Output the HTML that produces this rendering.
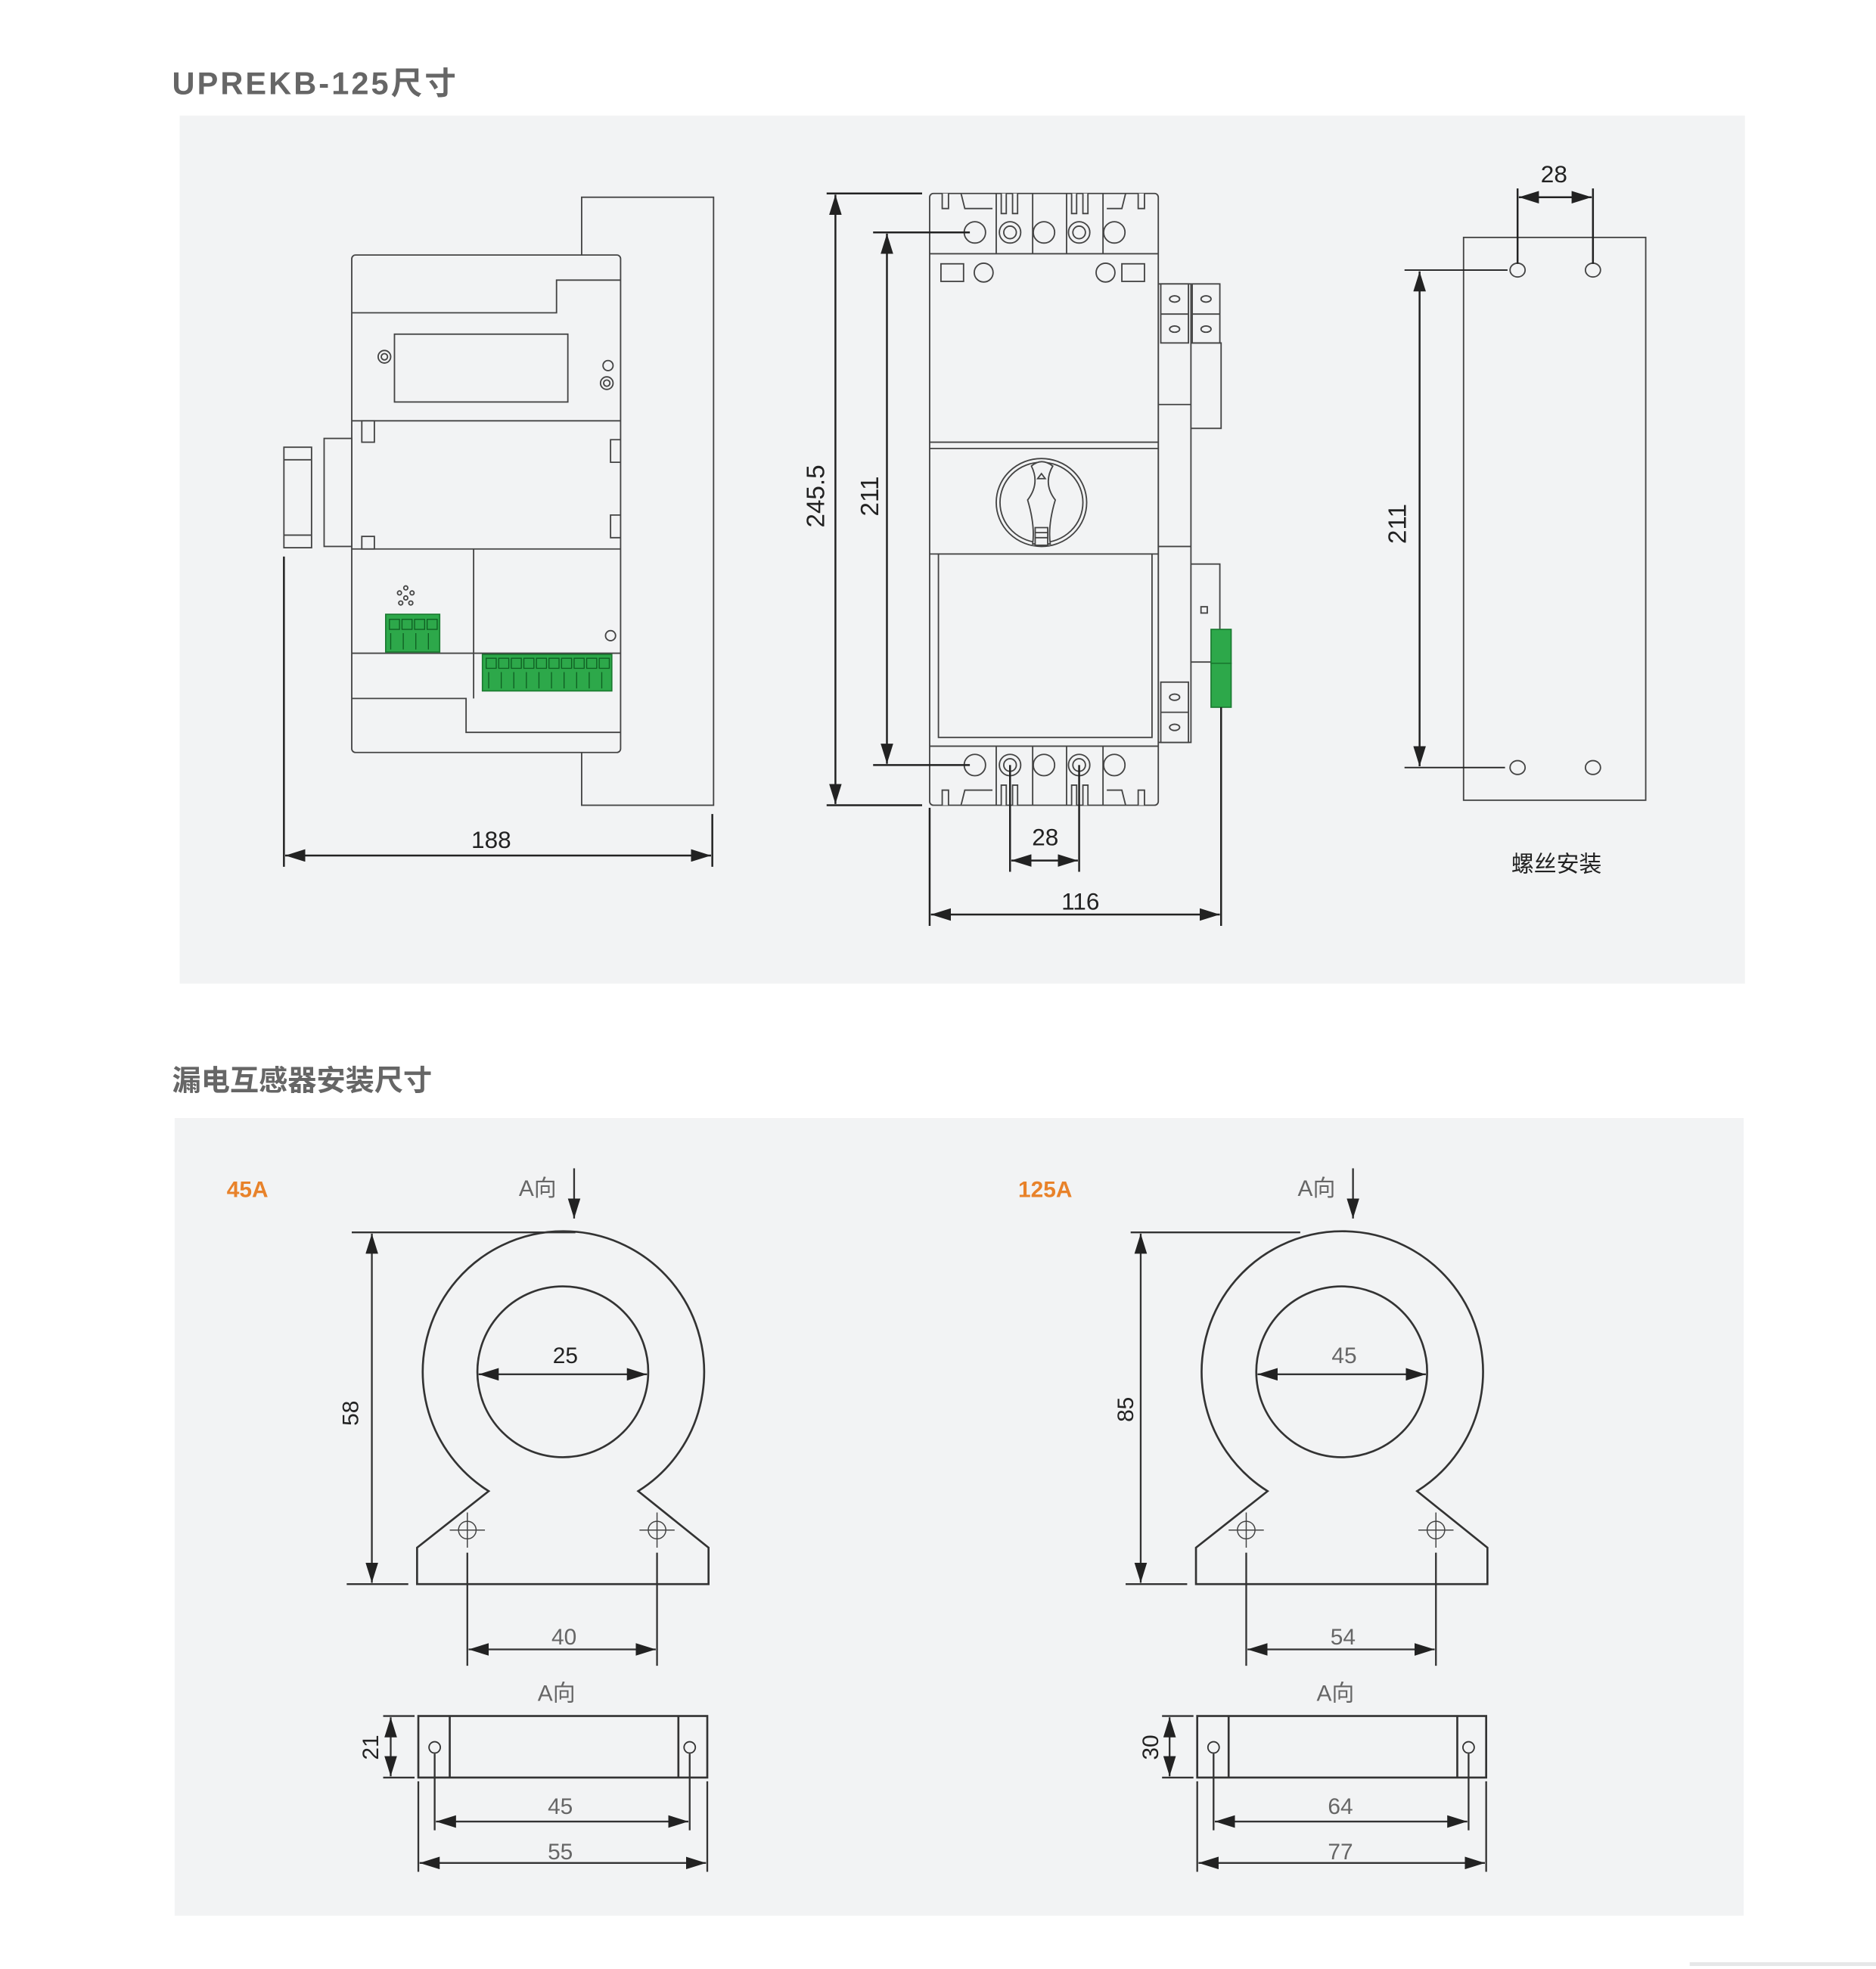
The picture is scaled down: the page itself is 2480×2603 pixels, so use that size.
<!DOCTYPE html>
<html><head><meta charset="utf-8"><style>
html,body{margin:0;padding:0;background:#fff;}
svg{display:block;}
text{font-family:"Liberation Sans","Noto Sans CJK SC",sans-serif;}
</style></head><body>
<svg width="2480" height="2603" viewBox="0 0 1493.3 1567.4" preserveAspectRatio="none" xmlns="http://www.w3.org/2000/svg">
<defs>
<marker id="a" markerUnits="userSpaceOnUse" markerWidth="16" markerHeight="10" refX="16" refY="5" orient="auto-start-reverse"><path d="M0,0 L16,5 L0,10 Z" fill="#222"/></marker>
</defs>
<rect width="1500" height="1575" fill="#fff"/>
<rect x="143" y="92" width="1246" height="691" fill="#f2f3f4"/>
<rect x="139" y="890" width="1249" height="635" fill="#f2f3f4"/>
<rect x="1345" y="1562" width="155" height="3" fill="#e6e7e8"/>

<text x="137" y="75" font-size="25" font-weight="bold" fill="#666" textLength="226">UPREKB-125尺寸</text>
<text x="137" y="868" font-size="23" font-weight="bold" fill="#666">漏电互感器安装尺寸</text>

<!-- LEFT side view -->
<g fill="#f2f3f4" stroke="#444" stroke-width="1.1">
<rect x="463" y="157" width="105" height="484"/>
<rect x="280" y="203" width="214" height="396" rx="3"/>
<path d="M280,249 H443 V223 H494" fill="none"/>
<rect x="314" y="266" width="138" height="54"/>
<circle cx="306" cy="284" r="5"/><circle cx="306" cy="284" r="2.5"/>
<circle cx="484" cy="291" r="4"/><circle cx="483" cy="305" r="5"/><circle cx="483" cy="305" r="2.5"/>
<line x1="280" y1="335" x2="494" y2="335"/>
<line x1="280" y1="437" x2="494" y2="437"/>
<rect x="258" y="349" width="22" height="86"/>
<rect x="226" y="356" width="22" height="80"/>
<line x1="226" y1="366" x2="248" y2="366"/><line x1="226" y1="426" x2="248" y2="426"/>
<rect x="288" y="335" width="10" height="17"/><rect x="288" y="427" width="10" height="10"/>
<path d="M494,350 H486 V368 H494 M494,410 H486 V428 H494" fill="none"/>
<line x1="377" y1="437" x2="377" y2="556"/>
<path d="M280,556 H371 V583 H494" fill="none"/>
<line x1="280" y1="520" x2="494" y2="520"/>
<circle cx="486" cy="506" r="4"/>
<circle cx="318" cy="472" r="1.6"/><circle cx="323" cy="468" r="1.6"/><circle cx="328" cy="472" r="1.6"/><circle cx="323" cy="476" r="1.6"/><circle cx="319" cy="480" r="1.6"/><circle cx="327" cy="480" r="1.6"/>
</g>
<rect x="307" y="489" width="43" height="30" fill="#2da84a" stroke="#1a7a30"/>
<rect x="384" y="521" width="103" height="29" fill="#2da84a" stroke="#1a7a30"/>
<g fill="none" stroke="#0f5e22" stroke-width="0.8">
<rect x="310" y="493" width="8" height="8"/><rect x="320" y="493" width="8" height="8"/><rect x="330" y="493" width="8" height="8"/><rect x="340" y="493" width="8" height="8"/>
<path d="M311,504 V517 M321,504 V517 M331,504 V517 M341,504 V517"/>
<path d="M387,524 h8v8h-8z M397,524 h8v8h-8z M407,524 h8v8h-8z M417,524 h8v8h-8z M427,524 h8v8h-8z M437,524 h8v8h-8z M447,524 h8v8h-8z M457,524 h8v8h-8z M467,524 h8v8h-8z M477,524 h8v8h-8z"/>
<path d="M389,535 V548 M399,535 V548 M409,535 V548 M419,535 V548 M429,535 V548 M439,535 V548 M449,535 V548 M459,535 V548 M469,535 V548 M479,535 V548"/>
</g>
<g stroke="#222" stroke-width="1.5" fill="none">
<line x1="226" y1="443" x2="226" y2="690"/><line x1="567" y1="648" x2="567" y2="690"/>
<line x1="227" y1="681" x2="566" y2="681" marker-start="url(#a)" marker-end="url(#a)"/>
</g>
<text x="391" y="675" font-size="19" fill="#222" text-anchor="middle">188</text>

<!-- MIDDLE front view -->
<g fill="#f2f3f4" stroke="#444" stroke-width="1.1">
<rect x="922" y="226" width="26" height="365"/>
<rect x="948" y="273" width="24" height="68"/>
<rect x="924" y="226" width="22" height="47"/><rect x="949" y="226" width="22" height="47"/>
<line x1="924" y1="250" x2="946" y2="250"/><line x1="949" y1="250" x2="971" y2="250"/>
<ellipse cx="935" cy="238" rx="4" ry="2.5"/><ellipse cx="935" cy="262" rx="4" ry="2.5"/>
<ellipse cx="960" cy="238" rx="4" ry="2.5"/><ellipse cx="960" cy="262" rx="4" ry="2.5"/>
<rect x="948" y="449" width="23" height="78"/>
<rect x="956" y="483" width="5" height="5"/>
<rect x="924" y="543" width="22" height="48"/><line x1="924" y1="567" x2="946" y2="567"/>
<ellipse cx="935" cy="555" rx="4" ry="2.5"/><ellipse cx="935" cy="579" rx="4" ry="2.5"/>
<line x1="922" y1="322" x2="948" y2="322"/><line x1="922" y1="435" x2="948" y2="435"/>
<rect x="740" y="154" width="182" height="487" rx="3"/>
<line x1="740" y1="202" x2="922" y2="202"/>
<line x1="740" y1="594" x2="922" y2="594"/>
<path d="M793,154 V202 M822,154 V202 M849,154 V202 M878,154 V202"/>
<path d="M793,594 V641 M822,594 V641 M849,594 V641 M878,594 V641"/>
<path d="M750,154 V166 H755 V154 M911,154 V166 H906 V154 M765,154 L768,166 H790 M896,154 L893,166 H881"/>
<path d="M797,154 V170 H801 V154 M806,154 V170 H810 V154 M853,154 V170 H857 V154 M862,154 V170 H866 V154"/>
<path d="M750,641 V629 H755 V641 M911,641 V629 H906 V641 M765,641 L768,629 H790 M896,641 L893,629 H881"/>
<path d="M797,641 V625 H801 V641 M806,641 V625 H810 V641 M853,641 V625 H857 V641 M862,641 V625 H866 V641"/>
<circle cx="776" cy="185" r="8.5"/><circle cx="804" cy="185" r="8.5"/><circle cx="804" cy="185" r="5"/><circle cx="831" cy="185" r="8.5"/><circle cx="859" cy="185" r="8.5"/><circle cx="859" cy="185" r="5"/><circle cx="887" cy="185" r="8.5"/>
<circle cx="776" cy="609" r="8.5"/><circle cx="804" cy="609" r="8.5"/><circle cx="804" cy="609" r="5"/><circle cx="831" cy="609" r="8.5"/><circle cx="859" cy="609" r="8.5"/><circle cx="859" cy="609" r="5"/><circle cx="887" cy="609" r="8.5"/>
<rect x="749" y="210" width="18" height="14"/><rect x="893" y="210" width="18" height="14"/>
<circle cx="783" cy="217" r="7.5"/><circle cx="880" cy="217" r="7.5"/>
<line x1="740" y1="352" x2="922" y2="352"/><line x1="740" y1="357" x2="922" y2="357"/>
<line x1="740" y1="441" x2="922" y2="441"/>
<rect x="747" y="441" width="170" height="146"/>
<ellipse cx="829" cy="400" rx="36" ry="35"/><ellipse cx="829" cy="400" rx="33" ry="32"/>
<path d="M821,371 Q829,364 838,371 Q830,385 840,398 Q834,418 836,433 H822 Q824,418 818,398 Q828,385 821,371 Z"/>
<path d="M824,420 H834 V434 H824 Z M824,424 H834 M824,428 H834"/>
<path d="M826,381 L829,377 L832,381 Z"/>
</g>
<rect x="964" y="501" width="16" height="27" fill="#2da84a" stroke="#1a7a30"/>
<rect x="964" y="528" width="16" height="35" fill="#2da84a" stroke="#1a7a30"/>
<g stroke="#222" stroke-width="1.5" fill="none">
<line x1="658" y1="154" x2="734" y2="154"/><line x1="658" y1="641" x2="734" y2="641"/>
<line x1="665" y1="155" x2="665" y2="640" marker-start="url(#a)" marker-end="url(#a)"/>
<line x1="695" y1="185" x2="772" y2="185"/><line x1="695" y1="609" x2="772" y2="609"/>
<line x1="706" y1="186" x2="706" y2="608" marker-start="url(#a)" marker-end="url(#a)"/>
<line x1="804" y1="609" x2="804" y2="694"/><line x1="859" y1="609" x2="859" y2="694"/>
<line x1="805" y1="685" x2="858" y2="685" marker-start="url(#a)" marker-end="url(#a)"/>
<line x1="740" y1="643" x2="740" y2="737"/><line x1="972" y1="563" x2="972" y2="737"/>
<line x1="741" y1="728" x2="971" y2="728" marker-start="url(#a)" marker-end="url(#a)"/>
</g>
<text transform="translate(656,395) rotate(-90)" font-size="20" fill="#222" text-anchor="middle">245.5</text>
<text transform="translate(699,395) rotate(-90)" font-size="20" fill="#222" text-anchor="middle">211</text>
<text x="832" y="673" font-size="19" fill="#222" text-anchor="middle">28</text>
<text x="860" y="724" font-size="19" fill="#222" text-anchor="middle">116</text>

<!-- RIGHT mounting -->
<g fill="#f2f3f4" stroke="#444" stroke-width="1.1">
<rect x="1165" y="189" width="145" height="448"/>
<ellipse cx="1208" cy="215" rx="6" ry="5.5"/><ellipse cx="1268" cy="215" rx="6" ry="5.5"/>
<ellipse cx="1208" cy="611" rx="6" ry="5.5"/><ellipse cx="1268" cy="611" rx="6" ry="5.5"/>
</g>
<g stroke="#222" stroke-width="1.5" fill="none">
<line x1="1208" y1="150" x2="1208" y2="210"/><line x1="1268" y1="150" x2="1268" y2="210"/>
<line x1="1209" y1="157" x2="1267" y2="157" marker-start="url(#a)" marker-end="url(#a)"/>
<line x1="1118" y1="215" x2="1200" y2="215" stroke-width="1.1"/><line x1="1118" y1="611" x2="1198" y2="611" stroke-width="1.1"/>
<line x1="1130" y1="216" x2="1130" y2="610" marker-start="url(#a)" marker-end="url(#a)"/>
</g>
<text x="1237" y="145" font-size="19" fill="#222" text-anchor="middle">28</text>
<text transform="translate(1119,417) rotate(-90)" font-size="20" fill="#222" text-anchor="middle">211</text>
<text x="1239" y="694" font-size="18" fill="#222" text-anchor="middle">螺丝安装</text>

<!-- SENSORS -->
<g id="s1">
<g fill="#f2f3f4" stroke="#333" stroke-width="1.6">
<path d="M389,1187 A112,112 0 1,1 508,1187 L564,1232 V1261 H332 V1232 Z"/>
<circle cx="448" cy="1092" r="68"/>
<rect x="333" y="1366" width="230" height="49"/>
<line x1="358" y1="1366" x2="358" y2="1415"/><line x1="540" y1="1366" x2="540" y2="1415"/>
</g>
<g fill="none" stroke="#444" stroke-width="0.9">
<circle cx="372" cy="1218" r="7"/><path d="M358,1218 H386 M372,1204 V1232"/>
<circle cx="523" cy="1218" r="7"/><path d="M509,1218 H537 M523,1204 V1232"/>
</g>
<g fill="#f2f3f4" stroke="#333" stroke-width="1.1">
<circle cx="346" cy="1391" r="4.5"/><circle cx="549" cy="1391" r="4.5"/>
</g>
</g>
<use href="#s1" x="620"/>

<g stroke="#333" stroke-width="1.4" fill="none">
<line x1="280" y1="981" x2="458" y2="981"/><line x1="276" y1="1261" x2="325" y2="1261"/>
<line x1="296" y1="982" x2="296" y2="1260" marker-start="url(#a)" marker-end="url(#a)"/>
<line x1="381" y1="1094" x2="515" y2="1094" marker-start="url(#a)" marker-end="url(#a)"/>
<line x1="457" y1="930" x2="457" y2="970" marker-end="url(#a)"/>
<line x1="372" y1="1236" x2="372" y2="1326"/><line x1="523" y1="1236" x2="523" y2="1326"/>
<line x1="373" y1="1313" x2="522" y2="1313" marker-start="url(#a)" marker-end="url(#a)"/>
<line x1="346" y1="1396" x2="346" y2="1457"/><line x1="549" y1="1396" x2="549" y2="1457"/>
<line x1="347" y1="1450" x2="548" y2="1450" marker-start="url(#a)" marker-end="url(#a)"/>
<line x1="333" y1="1418" x2="333" y2="1490"/><line x1="563" y1="1418" x2="563" y2="1490"/>
<line x1="334" y1="1483" x2="562" y2="1483" marker-start="url(#a)" marker-end="url(#a)"/>
<line x1="305" y1="1366" x2="330" y2="1366"/><line x1="305" y1="1415" x2="330" y2="1415"/>
<line x1="311" y1="1367" x2="311" y2="1414" marker-start="url(#a)" marker-end="url(#a)"/>
</g>
<g stroke="#333" stroke-width="1.4" fill="none" transform="translate(620,0)">
<line x1="280" y1="981" x2="415" y2="981"/><line x1="276" y1="1261" x2="325" y2="1261"/>
<line x1="288" y1="982" x2="288" y2="1260" marker-start="url(#a)" marker-end="url(#a)"/>
<line x1="381" y1="1094" x2="515" y2="1094" marker-start="url(#a)" marker-end="url(#a)"/>
<line x1="457" y1="930" x2="457" y2="970" marker-end="url(#a)"/>
<line x1="372" y1="1236" x2="372" y2="1326"/><line x1="523" y1="1236" x2="523" y2="1326"/>
<line x1="373" y1="1313" x2="522" y2="1313" marker-start="url(#a)" marker-end="url(#a)"/>
<line x1="346" y1="1396" x2="346" y2="1457"/><line x1="549" y1="1396" x2="549" y2="1457"/>
<line x1="347" y1="1450" x2="548" y2="1450" marker-start="url(#a)" marker-end="url(#a)"/>
<line x1="333" y1="1418" x2="333" y2="1490"/><line x1="563" y1="1418" x2="563" y2="1490"/>
<line x1="334" y1="1483" x2="562" y2="1483" marker-start="url(#a)" marker-end="url(#a)"/>
<line x1="305" y1="1366" x2="330" y2="1366"/><line x1="305" y1="1415" x2="330" y2="1415"/>
<line x1="311" y1="1367" x2="311" y2="1414" marker-start="url(#a)" marker-end="url(#a)"/>
</g>

<g font-size="18" fill="#666" text-anchor="middle">
<text x="197" y="953" font-weight="bold" fill="#e8822a">45A</text>
<text x="832" y="953" font-weight="bold" fill="#e8822a">125A</text>
<text x="428" y="952">A向</text><text x="1048" y="952">A向</text>
<text x="450" y="1085" fill="#222">25</text><text x="1070" y="1085">45</text>
<text x="449" y="1309">40</text><text x="1069" y="1309">54</text>
<text x="443" y="1354">A向</text><text x="1063" y="1354">A向</text>
<text x="446" y="1444">45</text><text x="1067" y="1444">64</text>
<text x="446" y="1480">55</text><text x="1067" y="1480">77</text>
<text transform="translate(285,1125) rotate(-90)" fill="#222">58</text>
<text transform="translate(902,1122) rotate(-90)" fill="#222">85</text>
<text transform="translate(301,1391) rotate(-90)" fill="#222">21</text>
<text transform="translate(922,1391) rotate(-90)" fill="#222">30</text>
</g>
</svg>
</body></html>
